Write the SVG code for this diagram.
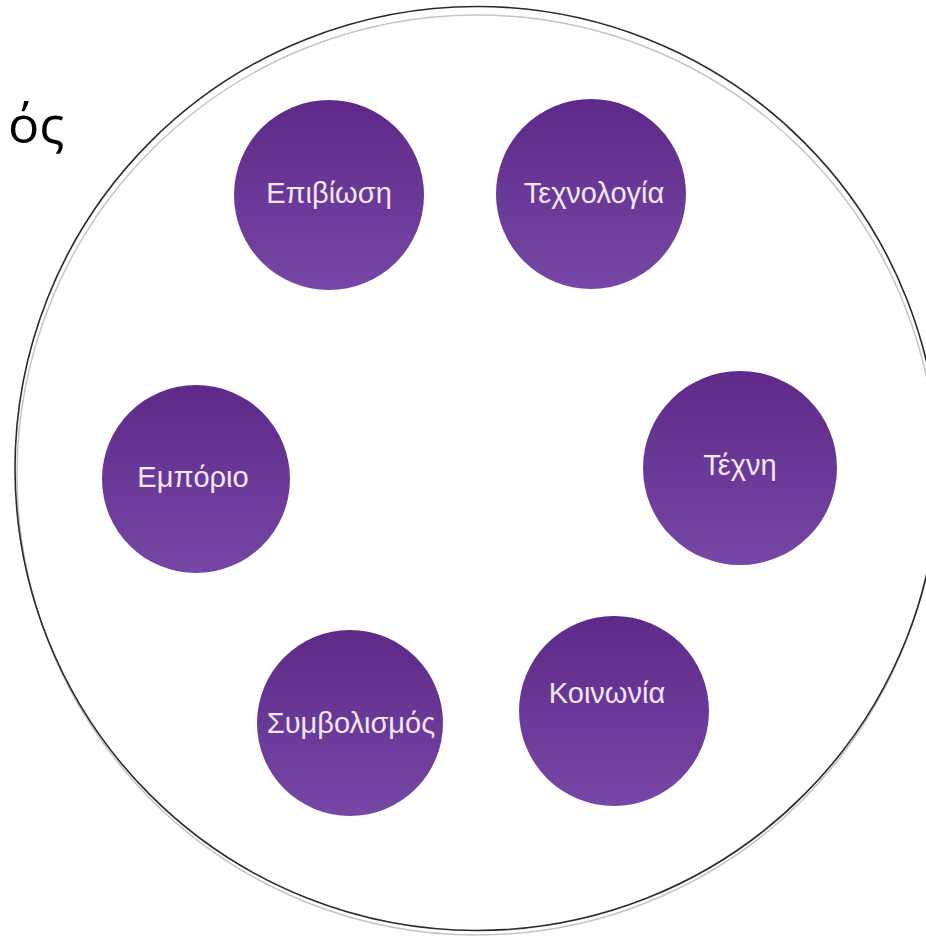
<svg xmlns="http://www.w3.org/2000/svg" width="926" height="938" viewBox="0 0 926 938">
<defs>
<linearGradient id="g" x1="0" y1="0" x2="0" y2="1">
<stop offset="0" stop-color="#5e2989"/>
<stop offset="1" stop-color="#7647a6"/>
</linearGradient>
<style>
.node{fill:url(#g);}
.lbl{font-family:"Liberation Sans",Arial,sans-serif;font-size:29px;fill:#f2e8f6;text-anchor:middle;}
.ring{fill:none;}
</style>
</defs>
<rect width="926" height="938" fill="#ffffff"/>
<g id="frame">
<circle class="ring" cx="477" cy="475" r="460" stroke="#c4c4c4" stroke-width="1.5"/>
<circle class="ring" cx="477" cy="468.5" r="462" stroke="#2a2a2a" stroke-width="1.6"/>
</g>
<text x="8" y="143" font-family="'Open Sans','Noto Sans',sans-serif" font-size="52" fill="#000">ός</text>
<g id="connectors"></g>
<g id="n-epiviosi">
<circle class="node" cx="329" cy="195" r="95"/>
<text class="lbl" x="329" y="203">Επιβίωση</text>
</g>
<g id="n-technologia">
<circle class="node" cx="591" cy="194" r="95"/>
<text class="lbl" x="594" y="203">Τεχνολογία</text>
</g>
<g id="n-emporio">
<circle class="node" cx="196" cy="479" r="94"/>
<text class="lbl" x="193" y="487">Εμπόριο</text>
</g>
<g id="n-techni">
<circle class="node" cx="740" cy="468" r="97"/>
<text class="lbl" x="740" y="475">Τέχνη</text>
</g>
<g id="n-symvolismos">
<circle class="node" cx="350" cy="723" r="93"/>
<text class="lbl" x="351" y="733">Συμβολισμός</text>
</g>
<g id="n-koinonia">
<circle class="node" cx="614" cy="711" r="95"/>
<text class="lbl" x="607" y="703">Κοινωνία</text>
</g>
</svg>
